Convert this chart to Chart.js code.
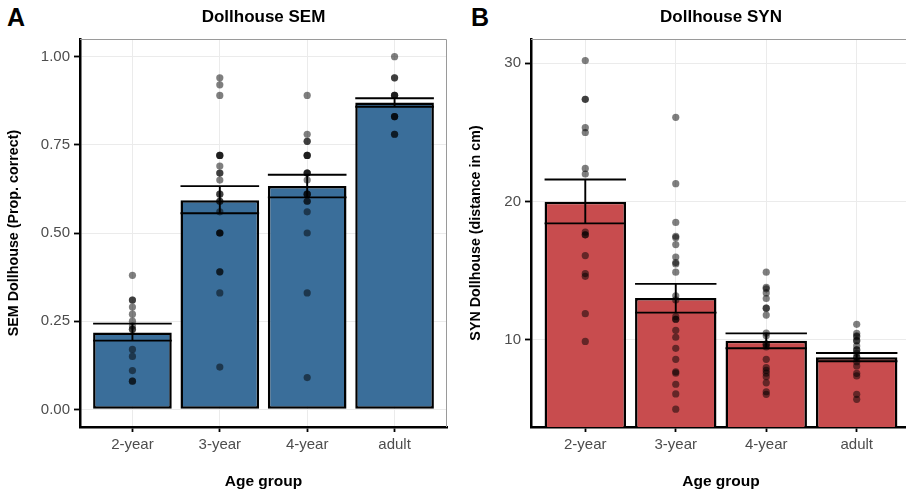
<!DOCTYPE html>
<html>
<head>
<meta charset="utf-8">
<script src="https://cdn.jsdelivr.net/npm/chart.js@4"></script>
<style>
  html, body { margin: 0; padding: 0; background: #fff; }
  body { width: 906px; height: 495px; overflow: hidden; position: relative; font-family: 'Liberation Sans', Arial, sans-serif; }
  canvas { position: absolute; top: 0; }
  .tag { position: absolute; top: 3px; font-weight: bold; font-size: 25px; color: #000; }
</style>
</head>
<body>
<div class="tag" style="left:7px">A</div>
<div class="tag" style="left:471px">B</div>
<canvas id="semChart" width="453" height="495" style="left:0"></canvas>
<canvas id="synChart" width="464" height="495" style="left:453px"></canvas>
<script>
// categories
const ageGroups = ['2-year', '3-year', '4-year', 'adult'];

// Panel A: SEM (proportion correct)
const semMean = [0.218, 0.593, 0.633, 0.870];
const semLow = [0.195, 0.556, 0.601, 0.858];
const semHigh = [0.243, 0.633, 0.665, 0.882];
const sem2 = [0.38, 0.31, 0.31, 0.29, 0.27, 0.25, 0.236, 0.227, 0.227, 0.17, 0.15, 0.11, 0.08, 0.08];
const sem3 = [0.94, 0.92, 0.89, 0.72, 0.72, 0.72, 0.69, 0.67, 0.67, 0.65, 0.61, 0.61, 0.59, 0.59, 0.56, 0.50, 0.50, 0.50, 0.39, 0.39, 0.33, 0.12];
const sem4 = [0.89, 0.78, 0.76, 0.76, 0.72, 0.72, 0.72, 0.67, 0.67, 0.67, 0.65, 0.61, 0.61, 0.61, 0.59, 0.59, 0.56, 0.50, 0.33, 0.09];
const semAdult = [1.00, 0.94, 0.94, 0.89, 0.89, 0.89, 0.83, 0.83, 0.83, 0.78, 0.78];
const semTicks = [0, 0.25, 0.5, 0.75, 1.0];

// Panel B: SYN (distance in cm)
const synMean = [20.0, 13.04, 9.95, 8.75];
const synLow = [18.43, 11.98, 9.40, 8.46];
const synHigh = [21.6, 14.06, 10.48, 9.06];
const syn2 = [30.2, 27.4, 27.4, 25.35, 25.0, 22.4, 22.0, 17.8, 17.6, 17.6, 16.1, 14.8, 14.6, 11.9, 9.9];
const syn3 = [26.1, 21.3, 18.5, 17.5, 17.4, 16.9, 16.0, 15.6, 15.5, 14.9, 13.2, 12.9, 11.7, 11.5, 11.5, 10.7, 10.2, 9.4, 8.6, 7.7, 7.6, 6.8, 6.1, 5.0];
const syn4 = [14.9, 13.8, 13.7, 13.4, 13.0, 12.3, 12.3, 11.8, 10.5, 10.3, 9.7, 9.7, 9.5, 8.6, 8.0, 7.8, 7.6, 7.35, 6.9, 6.26, 6.07];
const synAdult = [11.13, 10.48, 10.3, 10.24, 9.95, 9.95, 9.57, 9.28, 9.28, 9.04, 8.75, 8.75, 8.43, 8.12, 7.59, 7.4, 6.07, 5.71];
const synTicks = [10, 20, 30];

const FONT = "'Liberation Sans', Arial, sans-serif";

// mean +/- se bars, drawn right after the bar dataset so points sit on top
const errorBars = {
    id: 'errorBars',
    afterDatasetDraw(chart, args, opts) {
        if (args.index !== 1) return;
        const { ctx, chartArea, scales: { x, y } } = chart;
        ctx.save();
        ctx.beginPath();
        ctx.rect(chartArea.left, chartArea.top, chartArea.width, chartArea.height);
        ctx.clip();
        ctx.strokeStyle = '#000';
        ctx.lineWidth = 1.9;
        opts.low.forEach((lo, i) => {
            const cx = x.getPixelForValue(i);
            const half = x.getPixelForValue(i + 0.45) - cx;
            const yl = y.getPixelForValue(lo);
            const yh = y.getPixelForValue(opts.high[i]);
            ctx.beginPath();
            ctx.moveTo(cx - half, yh); ctx.lineTo(cx + half, yh);
            ctx.moveTo(cx - half, yl); ctx.lineTo(cx + half, yl);
            ctx.moveTo(cx, yl); ctx.lineTo(cx, yh);
            ctx.stroke();
        });
        ctx.restore();
    }
};

// grey panel border on top/right and the panel title
const panelDecor = {
    id: 'panelDecor',
    afterDraw(chart, args, opts) {
        const { ctx, chartArea: a } = chart;
        ctx.save();
        ctx.strokeStyle = '#9a9a9a';
        ctx.lineWidth = 1;
        ctx.beginPath();
        ctx.moveTo(a.left, a.top + 0.5); ctx.lineTo(a.right - 0.5, a.top + 0.5);
        ctx.lineTo(a.right - 0.5, a.bottom);
        ctx.stroke();
        ctx.fillStyle = '#000';
        ctx.font = 'bold 17px ' + FONT;
        ctx.textAlign = 'center';
        ctx.textBaseline = 'middle';
        ctx.fillText(opts.title, (a.left + a.right) / 2, 17);
        ctx.restore();
    }
};

function makePanel(id, cfg) {
    const groups = cfg.points;
    const pts = groups.flatMap((arr, i) => arr.map(v => ({ x: i, y: v })));
    return new Chart(document.getElementById(id), {
        type: 'bar',
        data: {
            datasets: [{
                type: 'scatter',
                data: pts,
                pointRadius: 3.6,
                pointBackgroundColor: 'rgba(0,0,0,0.5)',
                pointBorderWidth: 0,
                order: 1
            }, {
                type: 'bar',
                data: cfg.mean.map((v, i) => ({ x: i, y: v })),
                backgroundColor: cfg.color,
                borderColor: '#000',
                borderWidth: 2.5,
                borderSkipped: false,
                categoryPercentage: 1,
                barPercentage: 0.9,
                clip: 0,
                order: 2
            }]
        },
        options: {
            responsive: false,
            animation: false,
            events: [],
            layout: { padding: { left: 0, right: 6, top: 39, bottom: 0 } },
            plugins: {
                legend: { display: false },
                tooltip: { enabled: false },
                errorBars: { low: cfg.low, high: cfg.high },
                panelDecor: { title: cfg.title }
            },
            scales: {
                x: {
                    type: 'linear',
                    offset: false,
                    min: -0.6,
                    max: 3.6,
                    afterBuildTicks: s => { s.ticks = ageGroups.map((c, i) => ({ value: i })); },
                    afterFit: s => { s.height = 68; },
                    ticks: {
                        callback: v => ageGroups[v],
                        color: '#4d4d4d',
                        font: { family: FONT, size: 15 },
                        padding: 4,
                        maxRotation: 0
                    },
                    grid: { offset: false, color: '#ebebeb', tickColor: '#000', tickLength: 5, lineWidth: 1, tickWidth: 1.8 },
                    border: { color: '#000', width: 2.5 },
                    title: {
                        display: true, text: 'Age group', color: '#000',
                        font: { family: FONT, size: 15.5, weight: 'bold' },
                        padding: { top: 0, bottom: 4 }
                    }
                },
                y: {
                    min: cfg.yMin,
                    max: cfg.yMax,
                    afterBuildTicks: s => { s.ticks = cfg.ticks.map(v => ({ value: v })); },
                    afterFit: s => { s.width = cfg.yWidth; },
                    ticks: {
                        callback: cfg.fmt,
                        color: '#4d4d4d',
                        font: { family: FONT, size: 15 },
                        padding: 4
                    },
                    grid: { color: '#ebebeb', tickColor: '#000', tickLength: 6, lineWidth: 1, tickWidth: 1.8 },
                    border: { color: '#000', width: 2.5 },
                    title: {
                        display: true, text: cfg.yTitle, color: '#000',
                        font: { family: FONT, size: 14.3, weight: 'bold' },
                        padding: { top: cfg.yTitlePad, bottom: 0 }
                    }
                }
            }
        },
        plugins: [errorBars, panelDecor]
    });
}

makePanel('semChart', {
    title: 'Dollhouse SEM',
    yTitle: 'SEM Dollhouse (Prop. correct)',
    color: '#3a6e9a',
    mean: semMean, low: semLow, high: semHigh,
    points: [sem2, sem3, sem4, semAdult],
    yMin: -0.05, yMax: 1.05, ticks: semTicks,
    fmt: v => v.toFixed(2),
    yWidth: 80, yTitlePad: 5
});

makePanel('synChart', {
    title: 'Dollhouse SYN',
    yTitle: 'SYN Dollhouse (distance in cm)',
    color: '#c84c4e',
    mean: synMean, low: synLow, high: synHigh,
    points: [syn2, syn3, syn4, synAdult],
    yMin: 3.71, yMax: 31.76, ticks: synTicks,
    fmt: v => String(v),
    yWidth: 78, yTitlePad: 14
});
</script>
</body>
</html>
